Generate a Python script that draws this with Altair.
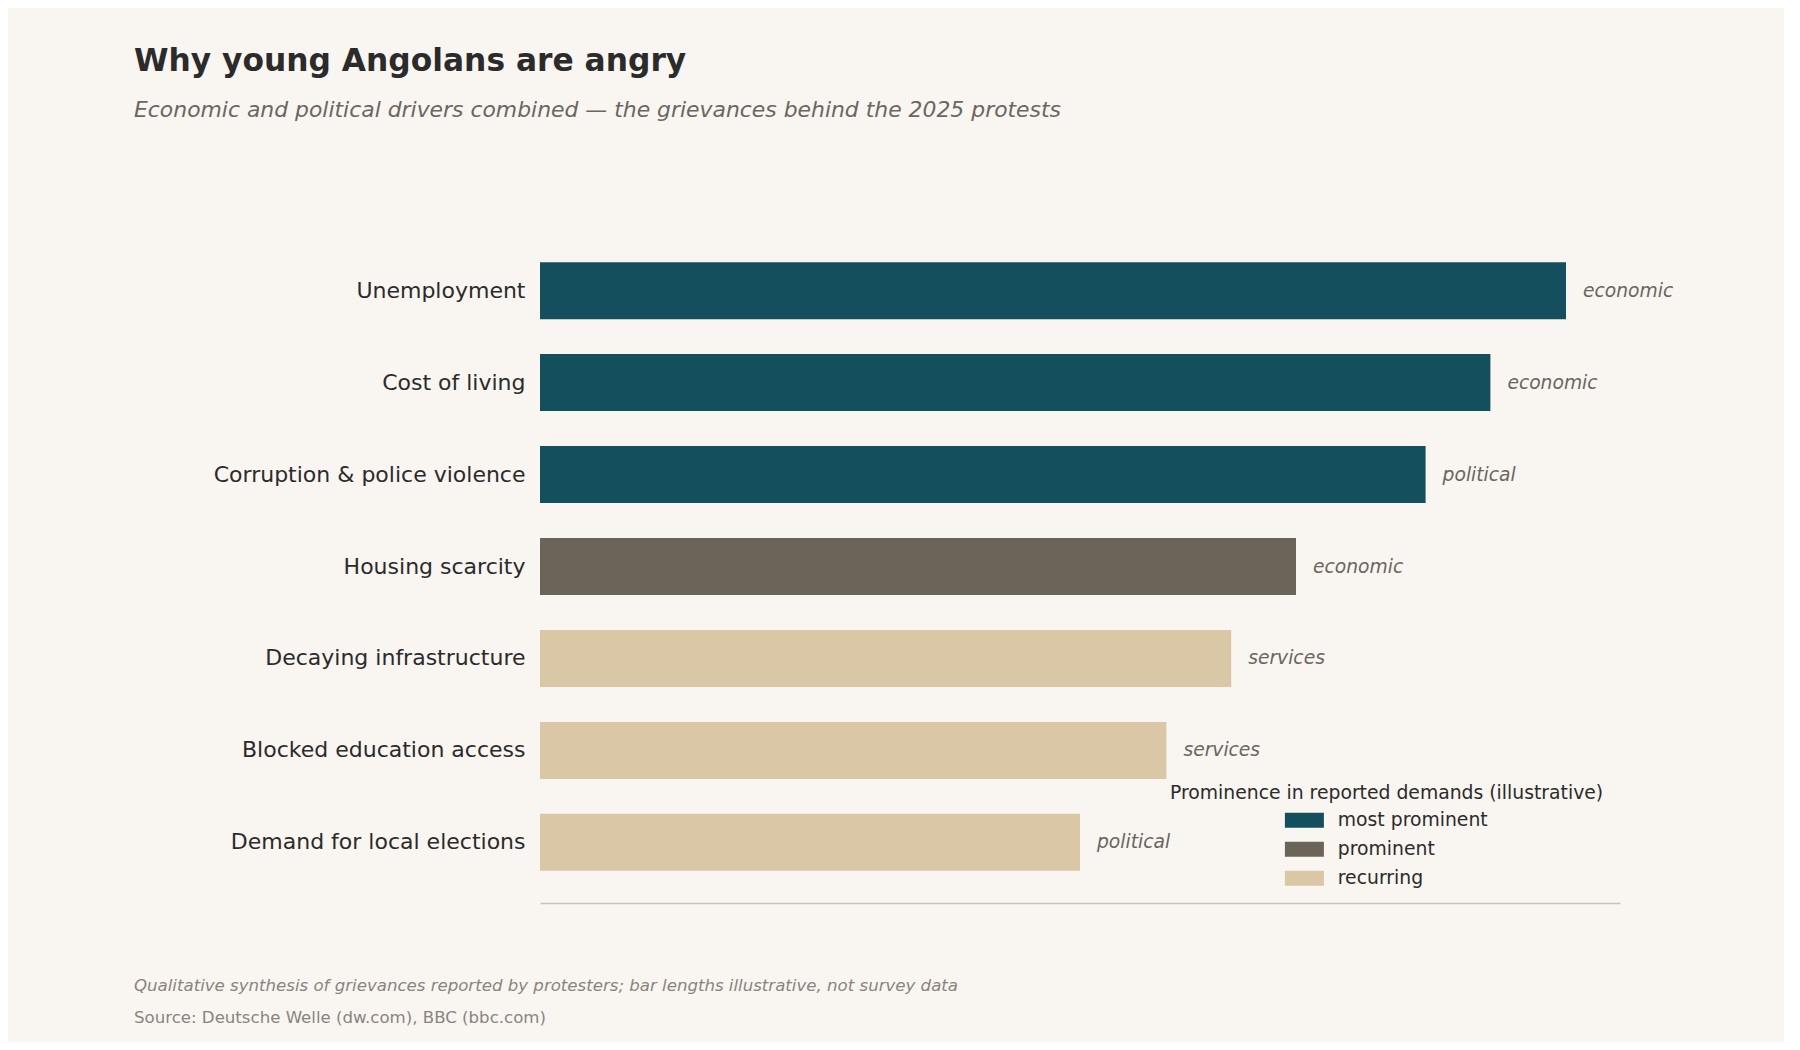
import altair as alt
import pandas as pd

grievances = [
    "Unemployment",
    "Cost of living",
    "Corruption & police violence",
    "Housing scarcity",
    "Decaying infrastructure",
    "Blocked education access",
    "Demand for local elections",
]
values = [95, 88, 82, 70, 64, 58, 50]
drivers = ["economic", "economic", "political", "economic", "services", "services", "political"]
prominence = [
    "most prominent", "most prominent", "most prominent",
    "prominent", "recurring", "recurring", "recurring",
]
prom_levels = ["most prominent", "prominent", "recurring"]
prom_colors = ["#144f5e", "#6b6458", "#dac7a5"]

footer_lines = [
    "Qualitative synthesis of grievances reported by protesters; bar lengths illustrative, not survey data",
]
source_lines = ["Source: Deutsche Welle (dw.com), BBC (bbc.com)"]

df = pd.DataFrame({
    "grievance": grievances,
    "value": values,
    "driver": drivers,
    "prominence": prominence,
})

FONT = "DejaVu Sans"

y_enc = alt.Y(
    "grievance:N",
    sort=grievances,
    title=None,
    scale=alt.Scale(paddingInner=0.38, paddingOuter=0.35),
    axis=alt.Axis(
        labelFontSize=22, labelColor="#2b2b2b", labelPadding=15,
        ticks=False, domain=False, labelLimit=500,
    ),
)
x_enc = alt.X(
    "value:Q",
    title=None,
    scale=alt.Scale(domain=[0, 100], nice=False),
    axis=alt.Axis(
        labels=False, ticks=False, grid=False,
        domain=True, domainColor="#c9c3b9", domainWidth=1.5,
    ),
)

bars = alt.Chart(df).mark_bar().encode(
    x=x_enc,
    y=y_enc,
    color=alt.Color(
        "prominence:N",
        scale=alt.Scale(domain=prom_levels, range=prom_colors),
        legend=alt.Legend(
            title="Prominence in reported demands (illustrative)",
            orient="none",
            legendX=630,
            legendY=554,
            titleFontSize=18.8,
            titleFontWeight="normal",
            titleColor="#2b2b2b",
            titlePadding=8,
            labelFontSize=18.8,
            labelColor="#2b2b2b",
            symbolType="M-2.6,-1H2.6V1H-2.6Z",
            symbolSize=225,
            symbolStrokeWidth=0,
            symbolOffset=125,
            labelOffset=24,
            rowPadding=9,
            titleLimit=800,
        ),
    ),
)

labels = alt.Chart(df).mark_text(
    align="left", baseline="middle", dx=17,
    fontSize=18.7, fontStyle="italic", color="#6b655d",
).encode(
    x="value:Q",
    y=alt.Y("grievance:N", sort=grievances),
    text="driver:N",
)

note = alt.Chart(pd.DataFrame({"t": footer_lines})).mark_text(
    align="left", baseline="middle", fontSize=16.6, fontStyle="italic", color="#8a847c",
).encode(x=alt.value(-406), y=alt.value(756), text="t:N")

source = alt.Chart(pd.DataFrame({"t": source_lines})).mark_text(
    align="left", baseline="middle", fontSize=16.6, color="#8a847c",
).encode(x=alt.value(-406), y=alt.value(788), text="t:N")

chart = alt.layer(bars, labels, note, source).properties(
    width=1080,
    height=673,
    background="#f9f6f1",
    padding={"left": 532, "top": 222, "right": 164, "bottom": 139},
    autosize=alt.AutoSizeParams(type="none"),
    title=alt.TitleParams(
        text="Why young Angolans are angry",
        subtitle="Economic and political drivers combined — the grievances behind the 2025 protests",
        anchor="start",
        frame="group",
        dx=-406,
        offset=109,
        fontSize=31.3,
        fontWeight="bold",
        color="#2b2b2b",
        subtitleFontSize=21.9,
        subtitleFontStyle="italic",
        subtitleColor="#6b6660",
        subtitlePadding=23,
    ),
).configure(
    font=FONT,
).configure_view(
    stroke=None,
)

chart.save("out.html", embed_options={"renderer": "svg", "actions": False})
